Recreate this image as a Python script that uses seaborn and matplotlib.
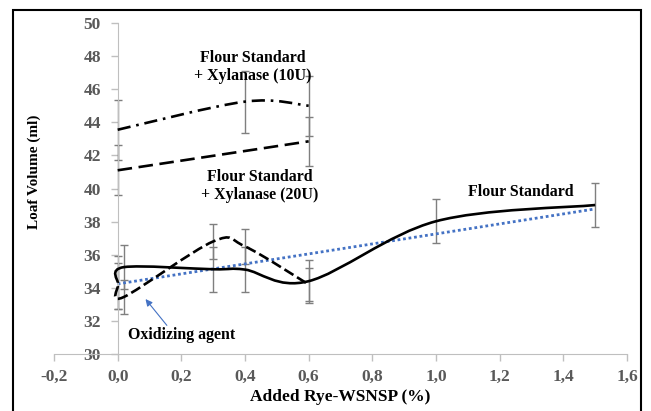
import matplotlib
matplotlib.use("Agg")
import matplotlib.pyplot as plt
import seaborn as sns
import numpy as np
from matplotlib.path import Path
from matplotlib.patches import PathPatch, Rectangle
from matplotlib.ticker import FuncFormatter

# data
fs_x = [0.0, 0.02, 0.3, 0.4, 0.6, 1.0, 1.5]
fs_y = [34.3, 35.25, 35.12, 35.1, 34.4, 38.02, 39.0]
fs_err = [1.6, 1.35, 1.36, 1.35, 1.3, 1.33, 1.33]

ox_x = [0.0, 0.02, 0.3, 0.4, 0.6]
ox_y = [34.1, 33.45, 36.8, 36.5, 34.2]
ox_err = [1.4, 1.03, 1.06, 1.05, 1.0]

x10_x = [0.0, 0.4, 0.6]
x10_y = [43.55, 45.25, 45.0]
x10_err = [1.8, 1.87, 1.8]

x20_x = [0.0, 0.6]
x20_y = [41.1, 42.85]
x20_err = [1.5, 1.48]

x_ticks = [-0.2, 0.0, 0.2, 0.4, 0.6, 0.8, 1.0, 1.2, 1.4, 1.6]
y_ticks = [30, 32, 34, 36, 38, 40, 42, 44, 46, 48, 50]

GREY = "#7f7f7f"
BLUE = "#4472C4"


def smooth_path(xs, ys):
    # Excel-style smoothed line: cubic bezier segments through the points
    pts = np.column_stack([xs, ys]).astype(float)
    verts = [pts[0]]
    codes = [Path.MOVETO]
    n = len(pts)
    for i in range(n - 1):
        p0 = pts[max(i - 1, 0)]
        p1 = pts[i]
        p2 = pts[i + 1]
        p3 = pts[min(i + 2, n - 1)]
        c1 = p1 + (p2 - p0) / 6.0
        c2 = p2 - (p3 - p1) / 6.0
        verts += [c1, c2, p2]
        codes += [Path.CURVE4] * 3
    return Path(verts, codes)


sns.set_style("white")
plt.rcParams["font.family"] = ["Liberation Serif", "DejaVu Serif"]
plt.rcParams["font.weight"] = "bold"

fig = plt.figure(figsize=(6.51, 4.11), dpi=100)
ax = fig.add_axes([54 / 651, 1 - 354 / 411, (627 - 54) / 651, (354 - 23) / 411])

# error bars
for xs, ys, es in [(fs_x, fs_y, fs_err), (ox_x, ox_y, ox_err),
                   (x10_x, x10_y, x10_err), (x20_x, x20_y, x20_err)]:
    ax.errorbar(xs, ys, yerr=es, fmt="none", ecolor=GREY, elinewidth=1,
                capsize=3, capthick=1, zorder=2)

# smoothed series lines
series = [
    (fs_x, fs_y, "-"),
    (ox_x, ox_y, (0, (4, 1.6))),
    (x10_x, x10_y, (0, (5, 2.2, 1, 2.2))),
    (x20_x, x20_y, (0, (5.5, 2.5))),
]
for xs, ys, ls in series:
    patch = PathPatch(smooth_path(xs, ys), facecolor="none", edgecolor="black",
                      lw=1.9, linestyle=ls, zorder=3)
    ax.add_patch(patch)

# linear trendline of Flour Standard
sns.regplot(x=np.array(fs_x), y=np.array(fs_y), scatter=False, ci=None, ax=ax,
            line_kws=dict(color=BLUE, lw=2, linestyle=(0, (1, 1))))

ax.set_xlim(-0.2, 1.6)
ax.set_ylim(30, 50)
ax.set_xticks(x_ticks)
ax.set_yticks(y_ticks)
fmt = FuncFormatter(lambda v, p: f"{v:.1f}".replace(".", ",") if abs(v) > 1e-9 else "0,0")
ax.xaxis.set_major_formatter(fmt)

for s in ["top", "right"]:
    ax.spines[s].set_visible(False)
ax.spines["left"].set_position(("data", 0))
ax.spines["left"].set_color("#bfbfbf")
ax.spines["bottom"].set_color("#bfbfbf")
ax.tick_params(axis="both", which="both", direction="out", length=5, width=1,
               color="#bfbfbf", labelcolor="#595959", labelsize=12.5)
ax.tick_params(axis="y", pad=7)
ax.tick_params(axis="x", pad=6)
ax.yaxis.set_ticks_position("left")
ax.xaxis.set_ticks_position("bottom")

ax.set_xlabel("Added Rye-WSNSP (%)", fontsize=12.5, fontweight="bold", color="black")
ax.set_ylabel("Loaf Volume (ml)", fontsize=11, fontweight="bold", color="black")
ax.xaxis.set_label_coords(0.5, -0.105)
ax.yaxis.set_label_coords(-0.022, 0.55)

# series labels
lab = dict(fontsize=11.4, fontweight="bold", color="black", ha="center", va="center")
ax.text(0.425, 47.35, "Flour Standard\n+ Xylanase (10U)", linespacing=1.2, **lab)
ax.text(0.445, 40.15, "Flour Standard\n+ Xylanase (20U)", linespacing=1.2, **lab)
ax.text(1.266, 39.8, "Flour Standard", **lab)
ax.text(0.2, 31.15, "Oxidizing agent", **lab)
ax.annotate("", xy=(0.082, 33.45), xytext=(0.16, 31.6),
            arrowprops=dict(arrowstyle="-|>", color=BLUE, lw=0.8, mutation_scale=10))

# outer frame
fig.add_artist(Rectangle((13 / 651, -0.05), (641 - 13) / 651, 1.05 - 10 / 411,
                         transform=fig.transFigure, fill=False, edgecolor="black",
                         lw=1.5, clip_on=False))

fig.savefig("out.png", dpi=100)
